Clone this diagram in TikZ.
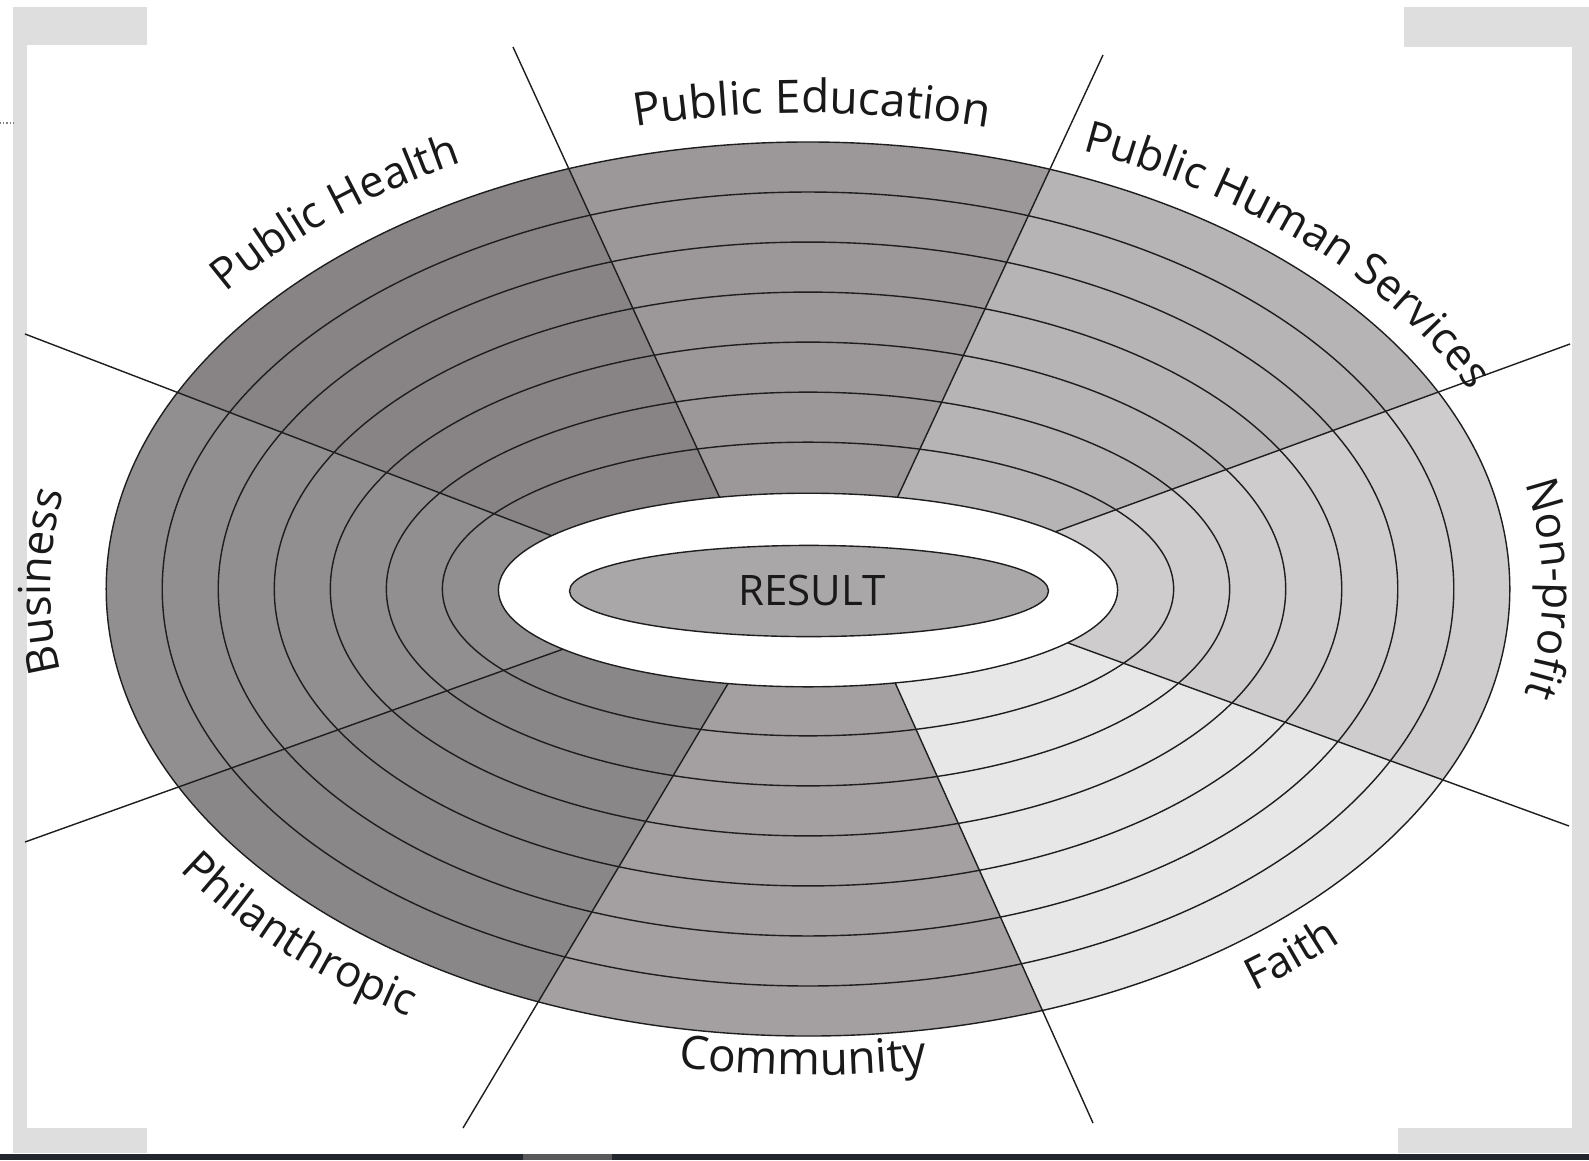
\documentclass[tikz,border=0pt]{standalone}
\usepackage{fontspec}
\setmainfont{Open Sans}
\usetikzlibrary{calc,decorations.text}

\definecolor{cPH}{RGB}{136,132,133}
\definecolor{cPE}{RGB}{156,152,153}
\definecolor{cPHS}{RGB}{182,180,181}
\definecolor{cNP}{RGB}{206,204,205}
\definecolor{cFA}{RGB}{232,231,232}
\definecolor{cCO}{RGB}{164,160,161}
\definecolor{cPHI}{RGB}{138,135,136}
\definecolor{cBU}{RGB}{146,143,144}
\definecolor{cRES}{RGB}{170,167,168}
\definecolor{linec}{RGB}{30,30,30}
\definecolor{txt}{RGB}{25,25,25}
\definecolor{framegray}{RGB}{222,222,222}
\definecolor{banddark}{RGB}{36,38,46}
\definecolor{bandmid}{RGB}{88,88,90}

\newcommand\lblfont{\fontsize{44}{44}\selectfont}
\newcommand\biglblfont{\fontsize{46}{46}\selectfont}
\newcommand\arclbl[6]{%
  \path[decorate, decoration={text along path, text align=center, text color=txt, text={|#5|#6}}]
    ($(808,-589)+(#3:#1 and #2)$) arc[start angle=#3, end angle=#4, x radius=#1, y radius=#2];}

\tikzset{
  ringline/.style={draw=linec, line width=1.4pt},
  secline/.style={draw=linec, line width=1.4pt},
  framepatch/.style={fill=framegray},
}

\begin{document}
\begin{tikzpicture}[x=1pt,y=1pt]
\useasboundingbox (0,0) rectangle (1589,-1160);
\fill[white] (0,0) rectangle (1589,-1160);

% scan frame
\fill[framepatch] (13,-7) rectangle (27,-1153);
\fill[framepatch] (13,-7) rectangle (147,-45);
\fill[framepatch] (13,-1128) rectangle (147,-1153);
\fill[framepatch] (1572,-7) rectangle (1589,-1153);
\fill[framepatch] (1404,-7) rectangle (1589,-47);
\fill[framepatch] (1398,-1128) rectangle (1589,-1153);
\fill[banddark] (0,-1154) rectangle (1589,-1160);
\fill[bandmid] (523,-1154) rectangle (612,-1160);
\draw[gray, dotted, line width=1.2pt] (0,-123) -- (13,-123);

% geometry
\coordinate (C) at (808,-589);
\coordinate (O1) at (513,-47);    \coordinate (H1) at (718,-494);
\coordinate (O2) at (1103,-55);   \coordinate (H2) at (899,-494);
\coordinate (O3) at (1570,-344);  \coordinate (H3) at (1063,-529);
\coordinate (O4) at (1569,-826);  \coordinate (H4) at (1071,-644);
\coordinate (O5) at (1093,-1123); \coordinate (H5) at (897,-687);
\coordinate (O6) at (463,-1128);  \coordinate (H6) at (726,-687);
\coordinate (O7) at (25,-842);    \coordinate (H7) at (555,-652);
\coordinate (O8) at (25,-334);    \coordinate (H8) at (547,-534);
\foreach \i in {1,...,8}{\coordinate (I\i) at ($(H\i)!-0.08!(O\i)$);}

% sector fills
\begin{scope}
\clip (808,-589) ellipse[x radius=701.8, y radius=447];
\fill[cPH]  (O8) -- (0,0) -- (O1) -- (I1) -- (C) -- (I8) -- cycle;
\fill[cPE]  (O1) -- (O2) -- (I2) -- (C) -- (I1) -- cycle;
\fill[cPHS] (O2) -- (1589,0) -- (O3) -- (I3) -- (C) -- (I2) -- cycle;
\fill[cNP]  (O3) -- (O4) -- (I4) -- (C) -- (I3) -- cycle;
\fill[cFA]  (O4) -- (1589,-1160) -- (O5) -- (I5) -- (C) -- (I4) -- cycle;
\fill[cCO]  (O5) -- (O6) -- (I6) -- (C) -- (I5) -- cycle;
\fill[cPHI] (O6) -- (0,-1160) -- (O7) -- (I7) -- (C) -- (I6) -- cycle;
\fill[cBU]  (O7) -- (O8) -- (I8) -- (C) -- (I7) -- cycle;
\end{scope}

% rings
\foreach \k in {1,...,7}{
  \draw[ringline] (808,-589) ellipse[x radius={309.6+56.03*\k}, y radius={96.8+50.03*\k}];
}

% sector lines
\foreach \i in {1,...,8}{\draw[secline] (O\i) -- (I\i);}

% hole and result
\draw[ringline, fill=white] (808,-590) ellipse[x radius=309.6, y radius=96.8];
\draw[ringline, fill=cRES] (809,-591) ellipse[x radius=239.5, y radius=45.6];
\node[inner sep=0pt, text=txt, font=\fontsize{42}{42}\selectfont] (result) at (812,-590) {RESULT};

% labels
\arclbl{737.8}{483}{150}{111.5}{\lblfont}{Public Health}
\arclbl{730.8}{476}{109.7}{69.7}{\biglblfont}{Public Education}
\arclbl{727.8}{473}{72}{19}{\lblfont}{Public Human Services}
\arclbl{734.8}{480}{20}{-20}{\lblfont}{Non-profit}
\arclbl{753.8}{499}{299.3}{322.8}{\lblfont}{Faith}
\arclbl{740.8}{486}{249.6}{289.6}{\biglblfont}{Community}
\arclbl{757.8}{503}{207.5}{243.5}{\lblfont}{Philanthropic}
\arclbl{757.8}{503}{199.2}{159.2}{\lblfont}{Business}
\end{tikzpicture}
\end{document}
